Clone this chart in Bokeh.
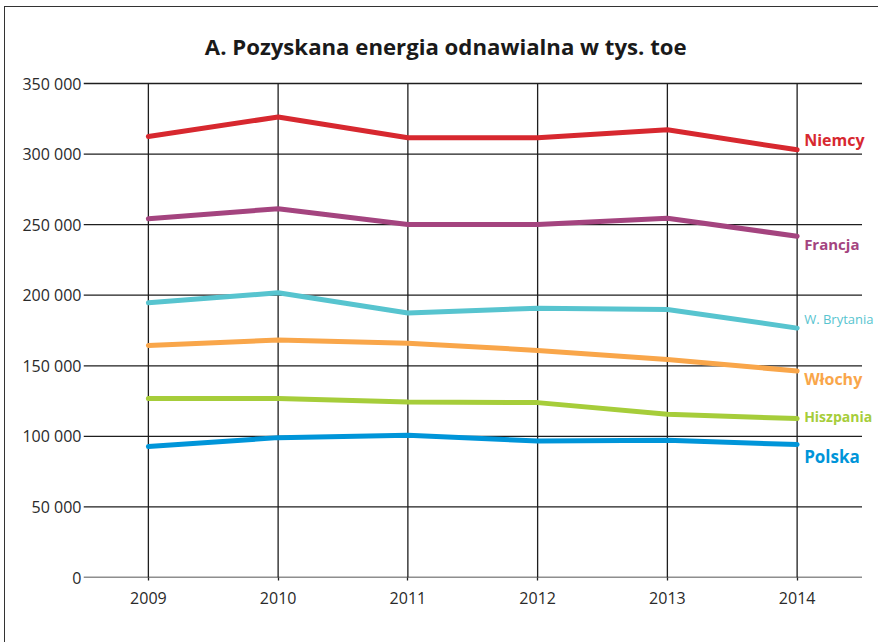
from bokeh.plotting import figure
from bokeh.models import ColumnDataSource, FixedTicker, CustomJSTickFormatter, Range1d
from bokeh.core.properties import value
from bokeh.embed import file_html
from bokeh.resources import INLINE

# Renewable energy production, thousand toe
years = [2009, 2010, 2011, 2012, 2013, 2014]
niemcy = [312400, 326300, 311500, 311500, 317200, 303000]
francja = [254200, 261300, 250100, 250100, 254500, 241800]
w_brytania = [194600, 201700, 187400, 190800, 189900, 176700]
wlochy = [164400, 168300, 166000, 160900, 154500, 146300]
hiszpania = [126900, 126900, 124300, 123900, 115600, 112600]
polska = [92800, 99100, 100800, 96700, 97200, 94200]

countries = ["Niemcy", "Francja", "W. Brytania", "Włochy", "Hiszpania", "Polska"]
series = [niemcy, francja, w_brytania, wlochy, hiszpania, polska]
y_ticks = [0, 50000, 100000, 150000, 200000, 250000, 300000, 350000]
title_text = "A. Pozyskana energia odnawialna w tys. toe"

# styling per series
colors = ["#d7282f", "#a4447f", "#57c4cf", "#f9a64a", "#a6cd3a", "#0095d9"]
label_sizes = ["16px", "15px", "13px", "16px", "14px", "17px"]
label_styles = ["bold", "bold", "normal", "bold", "bold", "bold"]
label_dy = [-10, 8, -9, 8, -2, 12]

FONT = "Open Sans"
INK = "#1e1e1e"

# canvas geometry; the plotting frame reaches the canvas top and right edge so the
# title and the country names can be drawn inside it
W, H = 874, 636
LEFT, BOTTOM = 78, 66
px_per_year = 129.75
grid_px = 494.0           # height of the gridded area (0 .. top tick)
head_px = 76.0            # space above the top gridline, holding the title

x_lo, x_hi = years[0] - 0.5, years[-1] + 0.5
x_end = x_lo + (W - LEFT) / px_per_year
y_top = y_ticks[-1]
y_end = y_top * (grid_px + head_px) / grid_px

p = figure(width=W, height=H, output_backend="svg", toolbar_location=None,
           x_range=Range1d(x_lo, x_end), y_range=Range1d(0, y_end),
           min_border_left=LEFT, min_border_right=0,
           min_border_top=0, min_border_bottom=BOTTOM)
# the canvas sits inside a thin box frame (left and top edges visible)
p.margin = (6, 0, 0, 4)
p.styles = {"border-top": "1.5px solid #333333", "border-left": "1.5px solid #333333"}
p.outline_line_color = None
p.background_fill_color = "white"
p.border_fill_color = "white"

# grid drawn only over the gridded area
p.xgrid.grid_line_color = None
p.ygrid.grid_line_color = None
p.segment(x0=years, x1=years, y0=[0] * len(years), y1=[y_top] * len(years),
          line_color=INK, line_width=1.3, level="underlay")
p.segment(x0=[x_lo] * len(y_ticks), x1=[x_hi] * len(y_ticks), y0=y_ticks, y1=y_ticks,
          line_color=INK, line_width=1.3, level="underlay")

# axes
p.xaxis.ticker = FixedTicker(ticks=years)
p.xaxis.axis_line_color = None
p.xaxis.major_tick_in = 0
p.xaxis.major_tick_out = 3
p.xaxis.major_tick_line_color = INK
p.xaxis.major_tick_line_width = 1.3
p.xaxis.minor_tick_line_color = None
p.xaxis.major_label_standoff = 11

p.yaxis.ticker = FixedTicker(ticks=y_ticks)
p.yaxis.axis_line_color = None
p.yaxis.major_tick_line_color = None
p.yaxis.minor_tick_line_color = None
p.yaxis.major_tick_out = 0
p.yaxis.major_tick_in = 0
p.yaxis.major_label_standoff = 2
p.yaxis.formatter = CustomJSTickFormatter(
    code="return Math.round(tick).toString().replace(/\\B(?=(\\d{3})+(?!\\d))/g, ' ');")

for ax in (p.xaxis, p.yaxis):
    ax.major_label_text_font = FONT
    ax.major_label_text_font_size = "16px"
    ax.major_label_text_color = "#2a2a2a"

# lines
for vals, col in zip(series, colors):
    p.line(years, vals, line_color=col, line_width=5, line_join="round", line_cap="round")

# end-of-line country names
last_year = years[-1]
lab_src = ColumnDataSource(dict(
    x=[last_year] * len(countries),
    y=[s[-1] for s in series],
    text=countries,
    color=colors,
    size=label_sizes,
    style=label_styles,
    dy=label_dy,
))
p.text(x="x", y="y", text="text", source=lab_src, text_color="color",
       text_font_size="size", text_font_style="style", text_font=value(FONT),
       x_offset=7, y_offset="dy", text_align="left", text_baseline="middle")

# chart title above the top gridline
p.text(x=[(x_lo + x_hi) / 2], y=[y_top], text=[title_text], x_offset=-27, y_offset=-37,
       text_font=value(FONT), text_font_style="bold", text_font_size="22.2px",
       text_color="#1a1a1a", text_align="center", text_baseline="alphabetic")

open("out.html", "w").write(file_html(p, INLINE))
